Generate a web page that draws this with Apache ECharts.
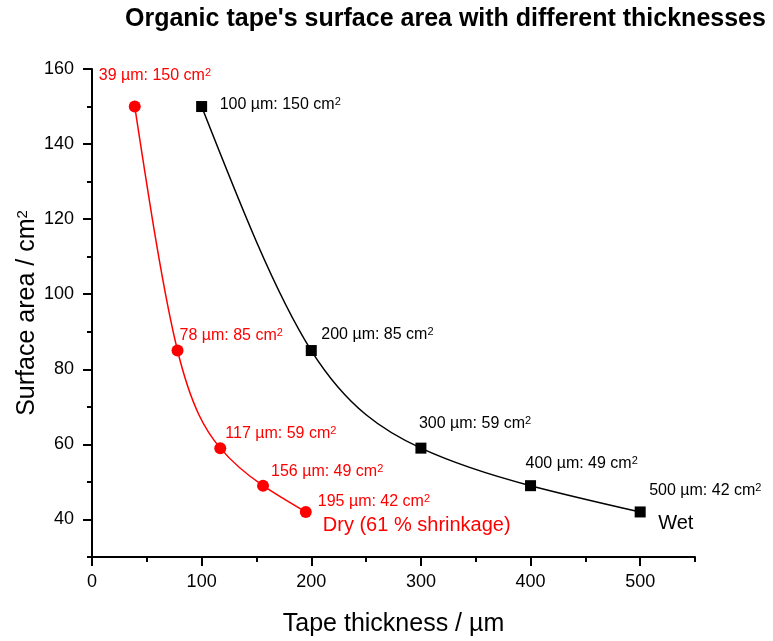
<!DOCTYPE html>
<html>
<head>
<meta charset="utf-8">
<script src="https://cdn.jsdelivr.net/npm/echarts@6/dist/echarts.min.js"></script>
<style>
  html, body { margin: 0; padding: 0; background: #fff; }
  #chart { width: 773px; height: 641px; }
</style>
</head>
<body>
<div id="chart"></div>
<script>
const FONT = '"Liberation Sans", Arial, Helvetica, sans-serif';

// Tape thickness (µm) and surface area (cm²), dry and wet
const dryThickness = [39, 78, 117, 156, 195];
const dryArea = [150, 85, 59, 49, 42];
const wetThickness = [100, 200, 300, 400, 500];
const wetArea = [150, 85, 59, 49, 42];

// Axis tick positions
const xMajorTicks = [0, 100, 200, 300, 400, 500];
const xMinorTicks = [50, 150, 250, 350, 450, 550];
const yMajorTicks = [40, 60, 80, 100, 120, 140, 160];
const yMinorTicks = [30, 50, 70, 90, 110, 130, 150];

const titleText = "Organic tape's surface area with different thicknesses";
const dryName = 'Dry (61 % shrinkage)';
const wetName = 'Wet';

// Placement of each point label: offset of the text's left/middle from the point
const dryLabelOffsets = [[-36, -31], [2, -15], [5, -15], [8, -14], [12, -10]];
const wetLabelOffsets = [[18, -2], [10, -16], [-2, -25], [-5, -22], [9, -21]];

const RED = '#ff0000';
const BLACK = '#000000';

function pointItems(xs, ys, offsets, color) {
  return xs.map((x, i) => ({
    value: [x, ys[i]],
    label: {
      show: true,
      position: 'inside',
      align: 'left',
      verticalAlign: 'middle',
      offset: offsets[i],
      color: color,
      fontSize: 16,
      fontFamily: FONT,
      formatter: p => `${p.value[0]} µm: ${p.value[1]} cm{sup|2}`,
      rich: { sup: { color: color, fontSize: 11, lineHeight: 8, verticalAlign: 'top', fontFamily: FONT } }
    }
  }));
}

function nameMark(xs, ys, text, color, offset) {
  const last = xs.length - 1;
  return {
    symbol: 'circle',
    symbolSize: 0,
    silent: true,
    animation: false,
    data: [{
      coord: [xs[last], ys[last]],
      label: {
        show: true,
        formatter: text,
        position: 'inside',
        align: 'left',
        verticalAlign: 'middle',
        offset: offset,
        color: color,
        fontSize: 20,
        fontFamily: FONT
      }
    }]
  };
}

// Natural cubic spline through the points, returned as Bezier segments in data space
function splineSegments(xs, ys) {
  const n = xs.length;
  const h = [];
  for (let i = 0; i < n - 1; i++) h.push(xs[i + 1] - xs[i]);
  // solve tridiagonal system for second derivatives M (M0 = Mn-1 = 0)
  const M = new Array(n).fill(0);
  const a = [], b = [], c = [], r = [];
  for (let i = 1; i < n - 1; i++) {
    a.push(h[i - 1]);
    b.push(2 * (h[i - 1] + h[i]));
    c.push(h[i]);
    r.push(6 * ((ys[i + 1] - ys[i]) / h[i] - (ys[i] - ys[i - 1]) / h[i - 1]));
  }
  const m = b.length;
  for (let i = 1; i < m; i++) {
    const w = a[i] / b[i - 1];
    b[i] -= w * c[i - 1];
    r[i] -= w * r[i - 1];
  }
  const sol = new Array(m);
  for (let i = m - 1; i >= 0; i--) {
    sol[i] = (r[i] - (i < m - 1 ? c[i] * sol[i + 1] : 0)) / b[i];
  }
  for (let i = 0; i < m; i++) M[i + 1] = sol[i];
  // first derivatives at each knot
  const d = [];
  for (let i = 0; i < n - 1; i++) {
    d.push((ys[i + 1] - ys[i]) / h[i] - h[i] * (2 * M[i] + M[i + 1]) / 6);
  }
  d.push((ys[n - 1] - ys[n - 2]) / h[n - 2] + h[n - 2] * (M[n - 2] + 2 * M[n - 1]) / 6);
  const segs = [];
  for (let i = 0; i < n - 1; i++) {
    segs.push([
      [xs[i], ys[i]],
      [xs[i] + h[i] / 3, ys[i] + d[i] * h[i] / 3],
      [xs[i + 1] - h[i] / 3, ys[i + 1] - d[i + 1] * h[i] / 3],
      [xs[i + 1], ys[i + 1]]
    ]);
  }
  return segs;
}

function curveSeries(xs, ys, color) {
  const segs = splineSegments(xs, ys);
  return {
    type: 'custom',
    coordinateSystem: 'cartesian2d',
    xAxisIndex: 0, yAxisIndex: 0,
    silent: true,
    z: 2,
    data: xs.map((x, i) => [x, ys[i]]),
    renderItem: (params, api) => {
      if (params.dataIndex !== 0) return null;
      return {
        type: 'group',
        children: segs.map(s => {
          const p0 = api.coord(s[0]), p1 = api.coord(s[1]), p2 = api.coord(s[2]), p3 = api.coord(s[3]);
          return {
            type: 'bezierCurve',
            shape: { x1: p0[0], y1: p0[1], cpx1: p1[0], cpy1: p1[1], cpx2: p2[0], cpy2: p2[1], x2: p3[0], y2: p3[1] },
            style: { stroke: color, lineWidth: 1.5, fill: null }
          };
        })
      };
    }
  };
}

const axisLineStyle = { color: '#000', width: 2 };

const chart = echarts.init(document.getElementById('chart'), null, { renderer: 'canvas' });
chart.setOption({
  animation: false,
  backgroundColor: '#fff',
  textStyle: { fontFamily: FONT },
  title: {
    text: titleText,
    left: 125,
    top: 7,
    padding: 0,
    textStyle: { fontSize: 25, fontWeight: 'bold', color: '#000', fontFamily: FONT }
  },
  grid: { left: 92, right: 78, top: 69, bottom: 84, outerBoundsMode: 'none' },
  xAxis: [
    {
      type: 'value', min: 0, max: 550, interval: 100, position: 'bottom',
      name: 'Tape thickness / µm', nameLocation: 'middle', nameGap: 55, nameMoveOverlap: false,
      nameTextStyle: { fontSize: 25, color: '#000', fontFamily: FONT },
      axisLine: { onZero: false, lineStyle: axisLineStyle },
      axisTick: { inside: false, length: 9, customValues: xMajorTicks, lineStyle: axisLineStyle },
      axisLabel: { customValues: xMajorTicks, fontSize: 18, color: '#000', margin: 16, fontFamily: FONT },
      splitLine: { show: false }
    },
    {
      type: 'value', min: 0, max: 550, interval: 50, position: 'bottom',
      axisLine: { show: false, onZero: false },
      axisTick: { inside: false, length: 5, customValues: xMinorTicks, lineStyle: axisLineStyle },
      axisLabel: { show: false },
      splitLine: { show: false }
    }
  ],
  yAxis: [
    {
      type: 'value', min: 30, max: 160, interval: 10, position: 'left',
      name: 'Surface area / cm{sup|2}', nameLocation: 'middle', nameGap: 52, nameMoveOverlap: false,
      nameTextStyle: { fontSize: 25, color: '#000', fontFamily: FONT, rich: { sup: { fontSize: 15, lineHeight: 12, verticalAlign: 'top', fontFamily: FONT } } },
      axisLine: { onZero: false, lineStyle: axisLineStyle },
      axisTick: { inside: false, length: 9, customValues: yMajorTicks, lineStyle: axisLineStyle },
      axisLabel: { customValues: yMajorTicks, fontSize: 18, color: '#000', margin: 18, fontFamily: FONT },
      splitLine: { show: false }
    },
    {
      type: 'value', min: 30, max: 160, interval: 10, position: 'left',
      axisLine: { show: false, onZero: false },
      axisTick: { inside: false, length: 5, customValues: yMinorTicks, lineStyle: axisLineStyle },
      axisLabel: { show: false },
      splitLine: { show: false }
    }
  ],
  series: [
    curveSeries(dryThickness, dryArea, RED),
    curveSeries(wetThickness, wetArea, BLACK),
    {
      name: dryName,
      type: 'line',
      xAxisIndex: 0, yAxisIndex: 0,
      symbol: 'circle',
      symbolSize: 12,
      lineStyle: { width: 0, opacity: 0 },
      itemStyle: { color: RED },
      data: pointItems(dryThickness, dryArea, dryLabelOffsets, RED),
      markPoint: nameMark(dryThickness, dryArea, dryName, RED, [17, 14]),
      z: 3
    },
    {
      name: wetName,
      type: 'line',
      xAxisIndex: 0, yAxisIndex: 0,
      symbol: 'rect',
      symbolSize: 11,
      lineStyle: { width: 0, opacity: 0 },
      itemStyle: { color: BLACK },
      data: pointItems(wetThickness, wetArea, wetLabelOffsets, BLACK),
      markPoint: nameMark(wetThickness, wetArea, wetName, BLACK, [18, 12]),
      z: 3
    }
  ]
});
</script>
</body>
</html>
